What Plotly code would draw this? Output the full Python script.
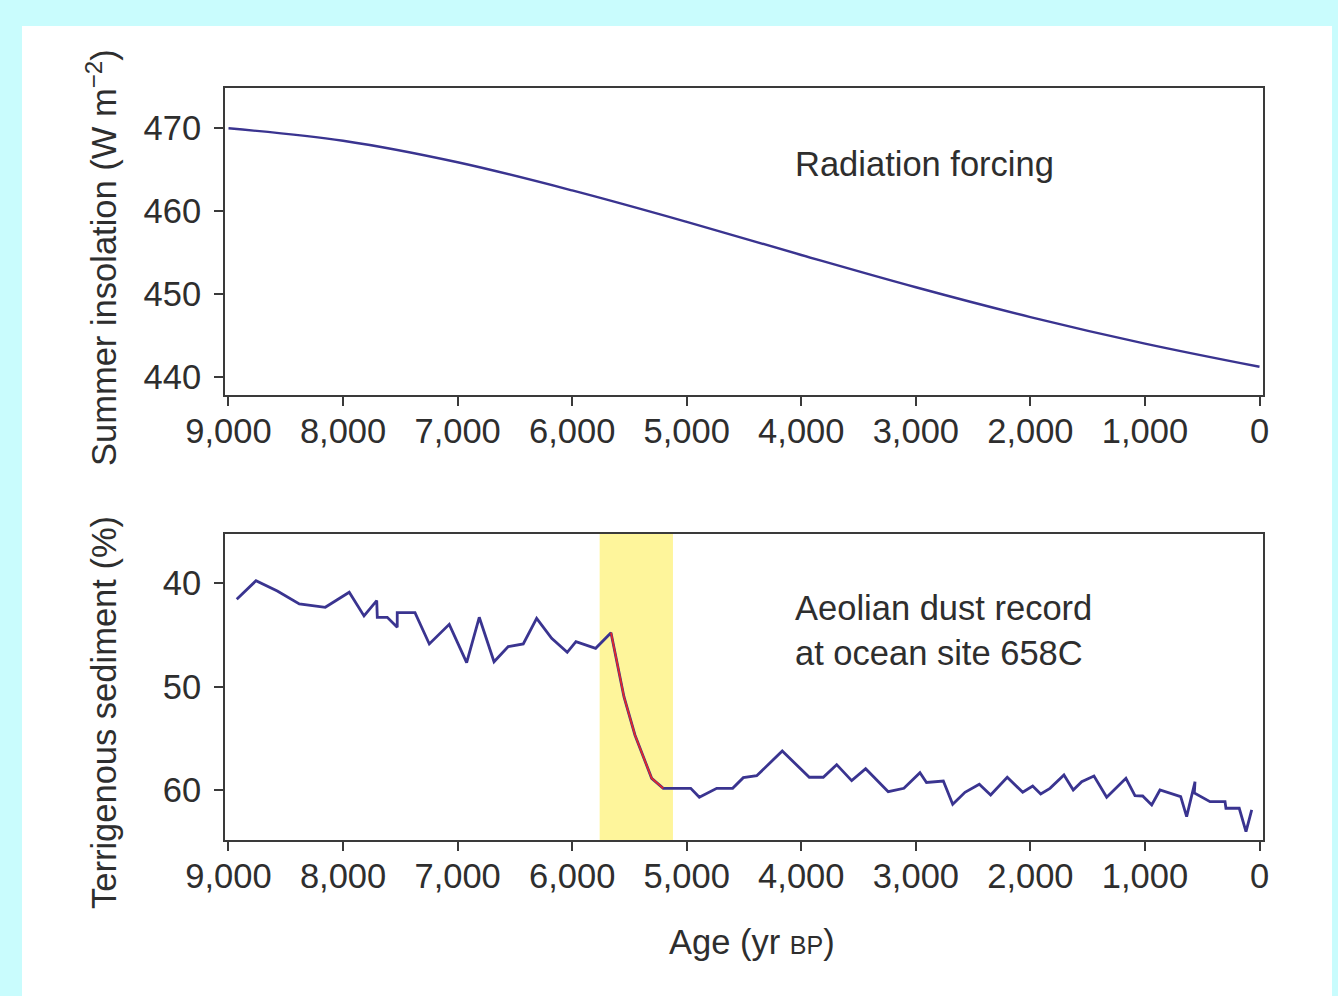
import plotly.graph_objects as go

W, H = 1338, 996

# ---- data ----
insol_age = [9000, 8000, 7000, 6000, 5000, 4000, 3000, 2000, 1000, 0]
insol_val = [470.0, 468.5, 465.9, 462.5, 458.7, 454.7, 450.8, 447.2, 444.0, 441.2]

dust_age = [8928, 8760, 8574, 8382, 8155, 7946, 7817, 7706, 7701, 7614, 7527, 7527,
            7372, 7247, 7073, 6921, 6811, 6682, 6558, 6427, 6310, 6179, 6043, 5967,
            5795, 5661, 5548, 5452, 5306, 5205, 4965, 4890, 4738, 4599, 4506, 4389,
            4166, 3930, 3808, 3691, 3560, 3438, 3241, 3104, 2964, 2907, 2760, 2678,
            2571, 2446, 2347, 2202, 2067, 1980, 1910, 1829, 1707, 1626, 1552, 1445,
            1334, 1166, 1087, 1020, 941, 869, 688, 636, 563, 569, 432, 301, 293,
            177, 118, 68]
dust_val = [41.55, 39.75, 40.75, 42.0, 42.32, 40.87, 43.16, 41.68, 43.29, 43.29, 44.26, 42.84,
            42.84, 45.87, 43.97, 47.68, 43.29, 47.59, 46.13, 45.87, 43.39, 45.32, 46.68, 45.65,
            46.29, 44.78, 50.97, 54.68, 58.87, 59.84, 59.84, 60.71, 59.84, 59.84, 58.81, 58.62,
            56.23, 58.77, 58.77, 57.55, 59.10, 57.94, 60.16, 59.84, 58.33, 59.27, 59.13, 61.38,
            60.22, 59.45, 60.48, 58.77, 60.22, 59.61, 60.39, 59.84, 58.55, 60.00, 59.20, 58.65,
            60.71, 58.87, 60.55, 60.58, 61.45, 60.00, 60.65, 62.58, 59.20, 60.29, 61.13, 61.13, 61.77,
            61.77, 64.03, 61.93]

# abrupt transition (red segment) indices in the dust record
shift_start, shift_end = 25, 29
band = [5760, 5120]

x_ticks = [9000, 8000, 7000, 6000, 5000, 4000, 3000, 2000, 1000, 0]
x_tick_labels = ["9,000", "8,000", "7,000", "6,000", "5,000", "4,000", "3,000", "2,000", "1,000", "0"]
y1_ticks = [440, 450, 460, 470]
y2_ticks = [40, 50, 60]

# ---- style ----
BLUE = "#3a3490"
RED = "#e3262b"
YELLOW = "#fef59b"
CYAN = "#c9fcfd"
AX = "#3a3a3a"
TXT = "#2e2e2e"
FONT = "Liberation Sans, Arial, Helvetica, sans-serif"
FS = 34.5

def px(x):
    return x / W

def py(y):
    return 1 - y / H

fig = go.Figure()
fig.add_trace(go.Scatter(x=insol_age, y=insol_val, mode="lines",
                         line=dict(color=BLUE, width=2.4, shape="spline", smoothing=1.0),
                         xaxis="x", yaxis="y", showlegend=False, hoverinfo="skip"))
fig.add_trace(go.Scatter(x=dust_age, y=dust_val, mode="lines", line=dict(color=BLUE, width=2.8),
                         xaxis="x2", yaxis="y2", showlegend=False, hoverinfo="skip"))
fig.add_trace(go.Scatter(x=dust_age[shift_start:shift_end + 1], y=dust_val[shift_start:shift_end + 1],
                         mode="lines", line=dict(color=RED, width=1.8),
                         xaxis="x2", yaxis="y2", showlegend=False, hoverinfo="skip"))

xr = [9030.5, -30.5]
common_x = dict(range=xr, tickvals=x_ticks, ticktext=x_tick_labels, showgrid=False, zeroline=False,
                showline=True, linecolor=AX, linewidth=2, mirror=True, ticks="outside", ticklen=9,
                tickwidth=2, tickcolor=AX, automargin=False, ticklabelstandoff=-4,
                tickfont=dict(family=FONT, size=FS, color=TXT))
common_y = dict(showgrid=False, zeroline=False, showline=True, linecolor=AX, linewidth=2, mirror=True,
                ticks="outside", ticklen=9, tickwidth=2, tickcolor=AX, automargin=False,
                ticklabelstandoff=6,
                tickfont=dict(family=FONT, size=FS, color=TXT))

fig.update_layout(
    template="none",
    width=W, height=H, margin=dict(l=0, r=0, t=0, b=0, pad=0),
    paper_bgcolor=CYAN, plot_bgcolor="white",
    xaxis=dict(domain=[px(225), px(1263)], anchor="y", **common_x),
    yaxis=dict(domain=[py(394.5), py(88)], anchor="x", range=[437.85, 474.87], tickvals=y1_ticks, **common_y),
    xaxis2=dict(domain=[px(225), px(1263)], anchor="y2", **common_x),
    yaxis2=dict(domain=[py(840), py(534)], anchor="x2", range=[64.84, 35.23], tickvals=y2_ticks, **common_y),
    shapes=[
        dict(type="rect", xref="paper", yref="paper", x0=px(22), x1=px(1332), y0=0, y1=py(26),
             fillcolor="white", line=dict(width=0), layer="below"),
        dict(type="rect", xref="x2", yref="y2 domain", x0=band[0], x1=band[1], y0=0, y1=1,
             fillcolor=YELLOW, line=dict(width=0), layer="below"),
    ],
    annotations=[
        dict(text="Radiation forcing", xref="paper", yref="paper", x=px(793), y=py(164),
             xanchor="left", yanchor="middle", showarrow=False, font=dict(family=FONT, size=FS, color=TXT)),
        dict(text="Aeolian dust record<br>at ocean site 658C", xref="paper", yref="paper", x=px(793), y=py(630),
             xanchor="left", yanchor="middle", align="left", showarrow=False,
             font=dict(family=FONT, size=FS, color=TXT)),
        dict(text="Summer insolation (W m<sup>\u22122</sup>)", xref="paper", yref="paper", x=px(101), y=py(258),
             textangle=-90, xanchor="center", yanchor="middle", showarrow=False,
             font=dict(family=FONT, size=FS, color=TXT)),
        dict(text="Terrigenous sediment (%)", xref="paper", yref="paper", x=px(104), y=py(712),
             textangle=-90, xanchor="center", yanchor="middle", showarrow=False,
             font=dict(family=FONT, size=FS, color=TXT)),
        dict(text="Age (yr <span style='font-size:25px'>BP</span>)", xref="paper", yref="paper",
             x=px(752), y=py(942), xanchor="center", yanchor="middle", showarrow=False,
             font=dict(family=FONT, size=FS, color=TXT)),
    ],
)

fig.write_html("out.html", config={"displayModeBar": False},
               post_script="document.body.style.margin='0';document.body.style.overflow='hidden';")
